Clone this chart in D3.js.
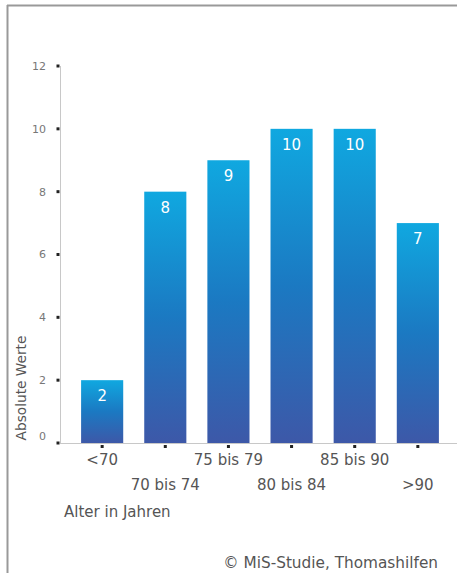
<!DOCTYPE html>
<html><head><meta charset="utf-8">
<script src="https://cdn.jsdelivr.net/npm/d3@7"></script>
<style>body{margin:0;background:#fff}svg{display:block}</style>
</head><body>
<script>
const categories = ["<70","70 bis 74","75 bis 79","80 bis 84","85 bis 90",">90"];
const values = [2,8,9,10,10,7];
const yTicks = [0,2,4,6,8,10,12];
const yTitle = "Absolute Werte";
const xTitle = "Alter in Jahren";
const source = "© MiS-Studie, Thomashilfen";

const W=457,H=573;
const svg=d3.select("body").append("svg").attr("width",W).attr("height",H);
const font="'DejaVu Sans', sans-serif";

const defs=svg.append("defs");
const g=defs.append("linearGradient").attr("id","barGrad").attr("x1",0).attr("y1",0).attr("x2",0).attr("y2",1);
g.append("stop").attr("offset","0%").attr("stop-color","#10a8e0");
g.append("stop").attr("offset","50%").attr("stop-color","#1b79c2");
g.append("stop").attr("offset","100%").attr("stop-color","#3d58a8");

// frame
svg.append("line").attr("x1",7.5).attr("x2",7.5).attr("y1",5).attr("y2",H).attr("stroke","#999").attr("stroke-width",2);
svg.append("line").attr("x1",7).attr("x2",W).attr("y1",5.5).attr("y2",5.5).attr("stroke","#999").attr("stroke-width",2);

const x=d3.scaleBand().domain(categories).range([71,449]).paddingInner(0.333).paddingOuter(0.16);
const y=d3.scaleLinear().domain([0,12]).range([443,66]);

// axes lines
svg.append("line").attr("x1",60.5).attr("x2",60.5).attr("y1",y(12)).attr("y2",y(0)).attr("stroke","#c8c8c8");
svg.append("line").attr("x1",60).attr("x2",W).attr("y1",y(0)+0.5).attr("y2",y(0)+0.5).attr("stroke","#c8c8c8");

// y ticks
const yAxis=svg.append("g");
yTicks.forEach(t=>{
  yAxis.append("rect").attr("x",56.5).attr("y",y(t)-1.5).attr("width",3).attr("height",3).attr("fill","#222");
  yAxis.append("text").attr("x",46).attr("y",y(t)-(t===0?7:0)).attr("dy","0.35em").attr("text-anchor","end")
    .attr("font-family",font).attr("font-size",11).attr("fill","#777").text(t);
});

// bars
svg.selectAll("rect.bar").data(values).enter().append("rect").attr("class","bar")
  .attr("x",(d,i)=>x(categories[i])).attr("width",x.bandwidth())
  .attr("y",d=>y(d)).attr("height",d=>y(0)-y(d)).attr("fill","url(#barGrad)");

svg.selectAll("text.val").data(values).enter().append("text").attr("class","val")
  .attr("x",(d,i)=>x(categories[i])+x.bandwidth()/2).attr("y",d=>y(d)+21)
  .attr("text-anchor","middle").attr("font-family",font).attr("font-size",15).attr("fill","#fff").text(d=>d);

// x ticks and labels
categories.forEach((c,i)=>{
  const cx=x(c)+x.bandwidth()/2;
  svg.append("rect").attr("x",cx-1.5).attr("y",y(0)+2).attr("width",3).attr("height",3).attr("fill","#222");
  svg.append("text").attr("x",cx).attr("y",i%2===0?465:490).attr("text-anchor","middle")
    .attr("font-family",font).attr("font-size",15).attr("fill","#555").text(c);
});

svg.append("text").attr("x",64).attr("y",517).attr("font-family",font).attr("font-size",15).attr("fill","#555").text(xTitle);
svg.append("text").attr("transform","translate(26,388) rotate(-90)").attr("text-anchor","middle")
  .attr("font-family",font).attr("font-size",13.7).attr("fill","#555").text(yTitle);
svg.append("text").attr("x",438).attr("y",568).attr("text-anchor","end").attr("font-family",font).attr("font-size",15.3).attr("fill","#555").text(source);
</script>
</body></html>
